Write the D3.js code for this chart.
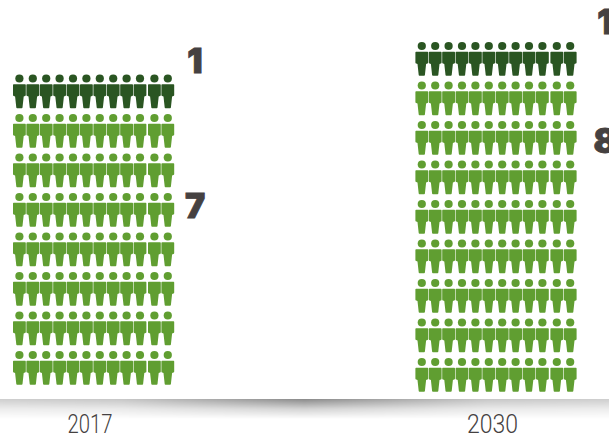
<!DOCTYPE html>
<html><head><meta charset="utf-8">
<script src="https://cdn.jsdelivr.net/npm/d3@7/dist/d3.min.js"></script>
<style>html,body{margin:0;padding:0;background:#fff}svg{display:block}</style>
</head><body><svg id="c" width="609" height="435"></svg>
<script>
const years = ["2017", "2030"];
const darkRows = [1, 1];
const lightRows = [7, 8];
const perRow = 12;
const darkColor = "#2a5522", lightColor = "#609e31", textColor = "#454141";

const svg = d3.select("#c");
const defs = svg.append("defs");
const h = defs.append("linearGradient").attr("id","maskH");
[[0,0.42],[.2,.48],[.5,1],[.8,.48],[1,0.42]].forEach(s => h.append("stop").attr("offset",s[0]).attr("stop-color","#fff").attr("stop-opacity",s[1]));
const r = defs.append("linearGradient").attr("id","fadeC").attr("x1",0).attr("x2",0).attr("y1",0).attr("y2",1);
r.append("stop").attr("offset",0).attr("stop-color","#000").attr("stop-opacity",.46);
r.append("stop").attr("offset",.5).attr("stop-color","#000").attr("stop-opacity",.17);
r.append("stop").attr("offset",1).attr("stop-color","#000").attr("stop-opacity",0);
defs.append("mask").attr("id","mH").attr("maskUnits","userSpaceOnUse").attr("x",0).attr("y",390).attr("width",609).attr("height",45)
  .append("rect").attr("x",0).attr("y",390).attr("width",609).attr("height",45).attr("fill","url(#maskH)");
svg.append("rect").attr("x",0).attr("y",399).attr("width",609).attr("height",20).attr("fill","url(#fadeC)").attr("mask","url(#mH)");

const colX = d3.scaleLinear().domain([0, 10]).range([19.4, 153.4]);
const offX = d3.scaleOrdinal().domain(years).range([0, 402.4]);
const rowY = d3.scaleLinear().domain([0, 8]).range([355, 39]);
const baseY = d3.scaleOrdinal().domain(years).range([0, 7]);

function person(g, color) {
  g.append("circle").attr("r",4.1).attr("fill",color);
  g.append("path").attr("fill",color)
   .attr("d","M-5.7,5.8 H5.7 Q6.4,5.8 6.4,6.5 V16.5 Q6.4,17.3 5.6,17.6 L4.3,18 L3.1,29 Q3,29.7 2.3,29.7 H-2.3 Q-3,29.7 -3.1,29 L-4.3,18 L-5.6,17.6 Q-6.4,17.3 -6.4,16.5 V6.5 Q-6.4,5.8 -5.7,5.8 Z");
}

years.forEach((yr, yi) => {
  const total = darkRows[yi] + lightRows[yi];
  d3.range(total).forEach(row => {
    const fromBottom = total - 1 - row;
    const color = row < darkRows[yi] ? darkColor : lightColor;
    const y = rowY(fromBottom) + baseY(yr);
    d3.range(perRow).forEach(i => {
      const x = colX(i) + (i >= 10 ? 1 : 0) + offX(yr);
      svg.append("g").attr("transform",`translate(${x},${y})`).call(person, color);
    });
  });
});

const numX = [195, 605];
const numBase = [[73, 218], [34, 153]];
years.forEach((yr, i) => {
  [darkRows[i], lightRows[i]].forEach((n, j) => {
    svg.append("text").attr("x", numX[i]).attr("y", numBase[i][j])
      .attr("text-anchor","middle").attr("font-family","Inter, 'Open Sans', sans-serif")
      .attr("font-weight",900).attr("font-size",34).attr("fill",textColor)
      .attr("stroke",textColor).attr("stroke-width",.9).text(n);
  });
});

const labelX = [90, 492.5];
const labelLen = [45, 51];
years.forEach((yr, i) => {
  svg.append("text").attr("x", labelX[i]).attr("y", 433).attr("text-anchor","middle")
    .attr("font-family","Roboto, sans-serif").attr("font-weight",300)
    .attr("font-size",25.5).attr("fill",textColor)
    .attr("textLength",labelLen[i]).attr("lengthAdjust","spacingAndGlyphs").text(yr);
});
</script></body></html>
